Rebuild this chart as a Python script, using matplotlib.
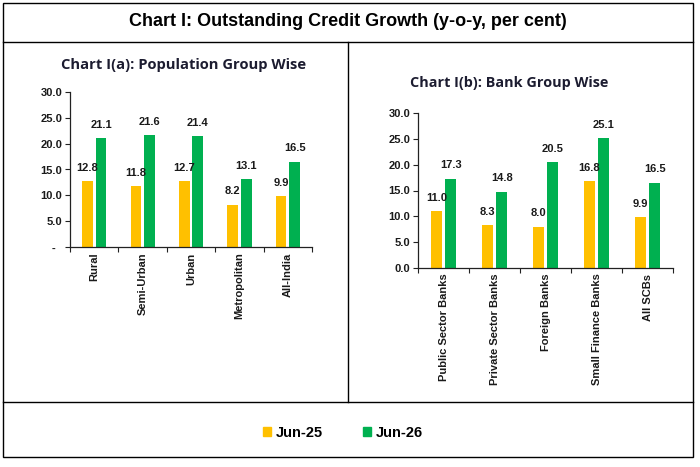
import matplotlib.pyplot as plt
import numpy as np
from matplotlib.lines import Line2D
from matplotlib.patches import Rectangle

# Data
series = ['Jun-25', 'Jun-26']
colors = ['#FFC000', '#00B050']

pop_groups = ['Rural', 'Semi-Urban', 'Urban', 'Metropolitan', 'All-India']
pop_jun25 = [12.8, 11.8, 12.7, 8.2, 9.9]
pop_jun26 = [21.1, 21.6, 21.4, 13.1, 16.5]

bank_groups = ['Public Sector Banks', 'Private Sector Banks', 'Foreign Banks',
               'Small Finance Banks', 'All SCBs']
bank_jun25 = [11.0, 8.3, 8.0, 16.8, 9.9]
bank_jun26 = [17.3, 14.8, 20.5, 25.1, 16.5]

yticks = [0, 5, 10, 15, 20, 25, 30]

W, H = 700, 467
bar_w = 0.22
offset = 0.14
text_color = '#1a1a1a'
font = 'Liberation Sans'


def px_rect(x0, y0, x1, y1):
    # pixel box (top-left origin) -> figure fraction [left, bottom, width, height]
    return [x0 / W, 1 - y1 / H, (x1 - x0) / W, (y1 - y0) / H]


def draw_panel(ax, cats, v25, v26, zero_label):
    x = np.arange(len(cats))
    for vals, off, c in [(v25, -offset, colors[0]), (v26, offset, colors[1])]:
        rects = ax.bar(x + off, vals, bar_w, color=c, zorder=2)
        ax.bar_label(rects, labels=[f'{v:.1f}' for v in vals], padding=6,
                     fontsize=8, fontweight='bold', color=text_color,
                     family=font)
    ax.set_xlim(-0.5, len(cats) - 0.5)
    ax.set_ylim(0, 30)
    ax.set_yticks(yticks)
    ax.set_yticklabels([zero_label if t == 0 else f'{t:.1f}' for t in yticks])
    ax.set_xticks(x)
    ax.set_xticklabels(cats, rotation=90)
    ax.set_xticks(np.arange(len(cats) + 1) - 0.5, minor=True)
    ax.tick_params(axis='x', which='major', length=0, pad=4)
    ax.tick_params(axis='x', which='minor', length=3.5, width=0.8,
                   direction='out', color='#222222')
    ax.tick_params(axis='y', length=3.5, width=0.8, color='#222222', pad=2)
    for lab in ax.get_xticklabels() + ax.get_yticklabels():
        lab.set_fontsize(8)
        lab.set_fontweight('bold')
        lab.set_family(font)
        lab.set_color(text_color)
    for s in ['top', 'right']:
        ax.spines[s].set_visible(False)
    for s in ['left', 'bottom']:
        ax.spines[s].set_color('#222222')
        ax.spines[s].set_linewidth(0.9)


fig = plt.figure(figsize=(7, 4.67), dpi=100)

ax1 = fig.add_axes(px_rect(70, 92, 312, 247))
draw_panel(ax1, pop_groups, pop_jun25, pop_jun26, '-  ')
ax2 = fig.add_axes(px_rect(418, 113, 673, 268))
draw_panel(ax2, bank_groups, bank_jun25, bank_jun26, '0.0')

# Frame lines
lw = 1.0
fig.add_artist(Rectangle((3 / W, 1 - 457 / H), 690 / W, 454 / H,
                         transform=fig.transFigure, fill=False,
                         edgecolor='black', lw=lw))
for yy in [42, 402]:
    fig.add_artist(Line2D([3 / W, 693 / W], [1 - yy / H, 1 - yy / H],
                          transform=fig.transFigure, color='black', lw=lw))
fig.add_artist(Line2D([348 / W, 348 / W], [1 - 42 / H, 1 - 402 / H],
                      transform=fig.transFigure, color='black', lw=lw))

# Titles
fig.text(348 / W, 1 - 22 / H, 'Chart I: Outstanding Credit Growth (y-o-y, per cent)',
         ha='center', va='center', fontsize=13, fontweight='bold',
         family=font, color='black')
fig.text(184 / W, 1 - 65 / H, 'Chart I(a): Population Group Wise',
         ha='center', va='center', fontsize=10.6, fontweight='bold',
         family='Open Sans', color='#1c1c30')
fig.text(509 / W, 1 - 83 / H, 'Chart I(b): Bank Group Wise',
         ha='center', va='center', fontsize=10.4, fontweight='bold',
         family='Open Sans', color='#1c1c30')

# Legend
handles = [Rectangle((0, 0), 1, 1, color=c) for c in colors]
fig.legend(handles, series, loc='center', bbox_to_anchor=(343 / W, 1 - 433 / H),
           ncol=2, frameon=False, handlelength=0.55, handleheight=0.55,
           handletextpad=0.3, columnspacing=2.8,
           prop={'family': font, 'weight': 'bold', 'size': 10.5})

fig.savefig('out.png', dpi=100)
